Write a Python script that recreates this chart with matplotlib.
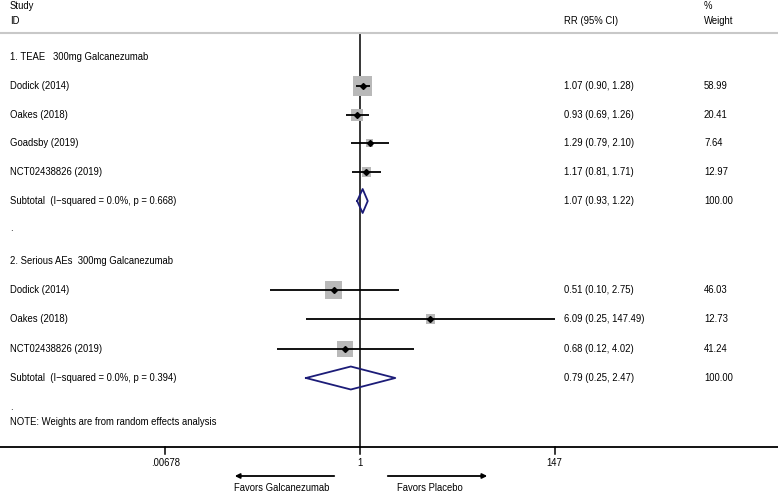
import numpy as np
import matplotlib
matplotlib.use('Agg')
import matplotlib.pyplot as plt

plt.rcParams['font.family'] = ['Liberation Sans', 'DejaVu Sans']

# group 1: TEAE
group1_title = '1. TEAE   300mg Galcanezumab'
studies1 = ['Dodick (2014)', 'Oakes (2018)', 'Goadsby (2019)', 'NCT02438826 (2019)']
rr1 = [1.07, 0.93, 1.29, 1.17]
lo1 = [0.90, 0.69, 0.79, 0.81]
hi1 = [1.28, 1.26, 2.10, 1.71]
w1 = [58.99, 20.41, 7.64, 12.97]
sub1 = [1.07, 0.93, 1.22]
sub1_label = 'Subtotal  (I\u2212squared = 0.0%, p = 0.668)'

# group 2: serious AEs
group2_title = '2. Serious AEs  300mg Galcanezumab'
studies2 = ['Dodick (2014)', 'Oakes (2018)', 'NCT02438826 (2019)']
rr2 = [0.51, 6.09, 0.68]
lo2 = [0.10, 0.25, 0.12]
hi2 = [2.75, 147.49, 4.02]
w2 = [46.03, 12.73, 41.24]
sub2 = [0.79, 0.25, 2.47]
sub2_label = 'Subtotal  (I\u2212squared = 0.0%, p = 0.394)'

tick_vals = [0.00678, 1, 147]
tick_labels = ['.00678', '1', '147']

W, H = 778, 492
fig = plt.figure(figsize=(W / 100, H / 100), dpi=100)
ax = fig.add_axes([0, 0, 1, 1])
ax.set_xscale('log')
ax.set_xlim(np.exp(-360 / 39.0), np.exp((W - 360) / 39.0))
ax.set_ylim(H, 0)
ax.axis('off')

tr = ax.get_yaxis_transform()  # x in axes fraction, y in data (pixels)
fs = 6.85
x_id, x_rr, x_w = 10 / W, 564 / W, 704 / W


def row_text(y, left, rr_txt='', w_txt=''):
    ax.text(x_id, y, left, transform=tr, fontsize=fs, va='center', ha='left')
    if rr_txt:
        ax.text(x_rr, y, rr_txt, transform=tr, fontsize=fs, va='center', ha='left')
    if w_txt:
        ax.text(x_w, y, w_txt, transform=tr, fontsize=fs, va='center', ha='left')


def study_rows(ys, rr, lo, hi, w):
    for y, r, l, h in zip(ys, rr, lo, hi):
        ax.plot([l, h], [y, y], color='black', lw=1.3, solid_capstyle='butt', zorder=3)
    side = 2.55 * np.sqrt(np.array(w)) * 0.72
    ax.scatter(rr, ys, marker='s', s=side ** 2, color='#b9b9b9', lw=0, zorder=2)
    ax.plot(rr, ys, 'D', color='black', ms=3, zorder=4)


def diamond(y, est, l, h, hh):
    ax.plot([l, est, h, est, l], [y, y - hh, y, y + hh, y], color='#1c1c78', lw=1.3, zorder=3)


# header
ax.text(x_id, 6, 'Study', transform=tr, fontsize=fs, va='center')
ax.text(x_id, 21, 'ID', transform=tr, fontsize=fs, va='center')
ax.text(x_rr, 21, 'RR (95% CI)', transform=tr, fontsize=fs, va='center')
ax.text(x_w, 6, '%', transform=tr, fontsize=fs, va='center')
ax.text(x_w, 21, 'Weight', transform=tr, fontsize=fs, va='center')
ax.plot([0, 1], [33, 33], transform=tr, color='#c8c8c8', lw=1.5)

# null line
ax.plot([1, 1], [34, 447], color='black', lw=1.1, zorder=1)

# group 1
ys1 = [86, 115, 143, 172]
row_text(57, group1_title)
for y, s, r, l, h, w in zip(ys1, studies1, rr1, lo1, hi1, w1):
    row_text(y, s, '%.2f (%.2f, %.2f)' % (r, l, h), '%.2f' % w)
study_rows(ys1, rr1, lo1, hi1, w1)
row_text(201, sub1_label, '%.2f (%.2f, %.2f)' % tuple(sub1), '100.00')
diamond(201, sub1[0], sub1[1], sub1[2], 12)
row_text(228, '.')

# group 2
ys2 = [290, 319, 349]
row_text(261, group2_title)
for y, s, r, l, h, w in zip(ys2, studies2, rr2, lo2, hi2, w2):
    row_text(y, s, '%.2f (%.2f, %.2f)' % (r, l, h), '%.2f' % w)
study_rows(ys2, rr2, lo2, hi2, w2)
row_text(378, sub2_label, '%.2f (%.2f, %.2f)' % tuple(sub2), '100.00')
diamond(378, sub2[0], sub2[1], sub2[2], 11.5)
row_text(407, '.')
row_text(422, 'NOTE: Weights are from random effects analysis')

# x axis
ax.plot([0, 1], [447, 447], transform=tr, color='black', lw=1.3)
for v, lab in zip(tick_vals, tick_labels):
    ax.plot([v, v], [447, 454], color='black', lw=1.1)
    ax.text(v, 463, lab, fontsize=fs, ha='center', va='center')

# favours arrows
ax.annotate('', xy=(232 / W, 476), xytext=(337 / W, 476), xycoords=tr, textcoords=tr,
            arrowprops=dict(arrowstyle='-|>', color='black', lw=1.3, mutation_scale=7))
ax.annotate('', xy=(490 / W, 476), xytext=(385 / W, 476), xycoords=tr, textcoords=tr,
            arrowprops=dict(arrowstyle='-|>', color='black', lw=1.3, mutation_scale=7))
ax.text(282 / W, 488, 'Favors Galcanezumab', transform=tr, fontsize=fs, ha='center', va='center')
ax.text(430 / W, 488, 'Favors Placebo', transform=tr, fontsize=fs, ha='center', va='center')

fig.savefig('out.png', dpi=100)
